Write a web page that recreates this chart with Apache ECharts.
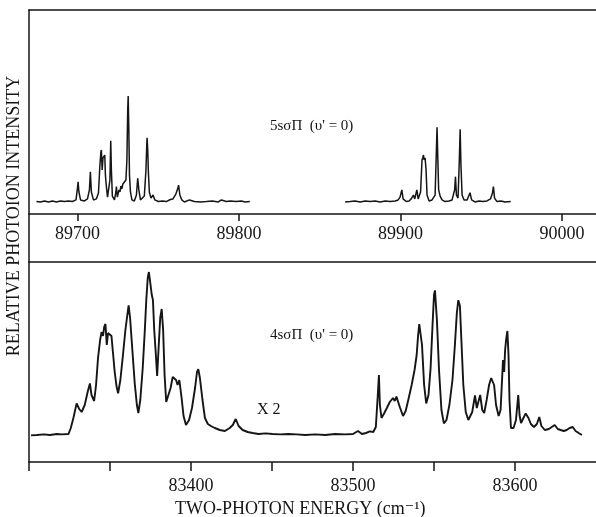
<!DOCTYPE html>
<html>
<head>
<meta charset="utf-8">
<script src="https://cdn.jsdelivr.net/npm/echarts@6/dist/echarts.min.js"></script>
<style>
  html, body { margin: 0; padding: 0; background: #fff; }
  #chart { width: 596px; height: 517px; }
</style>
</head>
<body>
<div id="chart"></div>
<script>
// 5sσΠ (v' = 0) band, lower-energy branch: [energy cm-1, relative intensity]
const band5sLow = [
  [89674.6, 6.1], [89677.1, 5.9], [89679.6, 6.4], [89682.1, 5.9], [89684.5, 6.4], [89687.0, 5.9],
  [89689.5, 6.4], [89692.0, 6.1], [89694.4, 6.4], [89696.9, 6.1], [89699.1, 6.9], [89700.0, 12.7],
  [89700.4, 15.8], [89700.9, 10.8], [89701.9, 6.9], [89704.3, 6.4], [89706.2, 7.4], [89707.4, 11.8],
  [89708.0, 20.7], [89708.6, 10.8], [89709.9, 6.9], [89711.7, 7.4], [89713.0, 10.3], [89713.9, 24.0],
  [89714.5, 30.4], [89714.8, 31.4], [89715.3, 21.6], [89715.8, 27.5], [89716.3, 27.9], [89716.9, 28.9],
  [89717.3, 19.1], [89717.8, 14.2], [89718.6, 8.3], [89719.5, 7.4], [89720.1, 16.7], [89720.6, 35.9],
  [89721.0, 21.6], [89721.6, 8.8], [89722.9, 6.9], [89723.8, 10.8], [89724.1, 13.4], [89724.7, 8.3],
  [89725.7, 11.8], [89726.3, 10.8], [89726.9, 13.7], [89727.5, 12.3], [89728.1, 14.7], [89729.1, 15.2],
  [89730.0, 16.7], [89730.6, 26.5], [89731.1, 51.0], [89731.4, 57.8], [89731.8, 41.2], [89732.2, 19.1],
  [89732.8, 10.8], [89733.7, 6.9], [89735.2, 6.4], [89736.5, 9.3], [89737.3, 17.5], [89738.0, 11.8],
  [89739.0, 6.9], [89740.2, 6.4], [89741.4, 8.8], [89742.4, 21.6], [89742.9, 33.8], [89743.1, 37.4],
  [89743.5, 31.4], [89743.9, 20.6], [89744.5, 10.8], [89745.5, 7.8], [89746.8, 9.3], [89747.9, 6.9],
  [89750.1, 6.1], [89752.6, 6.4], [89755.0, 6.1], [89757.5, 7.1], [89759.1, 7.4], [89760.9, 9.8],
  [89762.2, 12.7], [89762.6, 14.2], [89763.4, 9.3], [89764.6, 6.9], [89766.2, 5.9], [89769.3, 6.9],
  [89772.4, 6.1], [89776.1, 5.9], [89779.8, 6.1], [89783.5, 6.4], [89787.2, 5.9], [89789.1, 6.9],
  [89792.1, 6.1], [89794.6, 6.4], [89798.3, 6.1], [89801.4, 6.4], [89803.9, 5.9], [89806.7, 6.1]
];

// 5sσΠ (v' = 0) band, higher-energy branch
const band5sHigh = [
  [89865.7, 5.9], [89868.8, 6.1], [89871.9, 6.4], [89875.0, 5.9], [89878.1, 6.4], [89881.2, 6.1],
  [89884.3, 6.4], [89887.4, 5.9], [89890.5, 6.4], [89893.6, 6.1], [89896.7, 6.4], [89898.5, 6.9],
  [89899.7, 8.3], [89900.8, 11.8], [89901.6, 7.4], [89903.5, 6.1], [89905.3, 6.4], [89906.6, 7.4],
  [89908.0, 9.3], [89908.8, 7.4], [89910.1, 11.8], [89910.9, 7.4], [89912.4, 10.8], [89913.3, 26.5],
  [89913.7, 27.5], [89914.2, 28.9], [89914.6, 26.5], [89915.2, 27.5], [89915.8, 21.6], [89916.4, 9.3],
  [89917.7, 6.4], [89919.5, 6.9], [89921.4, 9.3], [89922.2, 31.4], [89922.6, 42.5], [89923.1, 26.5],
  [89923.6, 11.8], [89924.5, 8.8], [89925.7, 6.9], [89927.6, 6.1], [89930.0, 6.4], [89931.9, 6.9],
  [89933.5, 11.8], [89934.0, 18.3], [89934.6, 9.3], [89935.6, 7.8], [89936.4, 26.5], [89936.9, 41.5],
  [89937.4, 24.0], [89938.1, 9.3], [89939.3, 6.9], [89941.2, 6.9], [89942.4, 7.8], [89943.0, 10.4],
  [89944.0, 6.9], [89946.1, 5.9], [89948.6, 6.4], [89951.1, 6.1], [89953.5, 6.4], [89955.7, 7.4],
  [89956.9, 10.3], [89957.5, 13.4], [89958.2, 7.8], [89959.7, 6.1], [89962.2, 6.4], [89964.7, 5.9],
  [89968.2, 6.1]
];

// 4sσΠ (v' = 0) band (scaled x 2)
const band4s = [
  [83301.2, 13.3], [83304.9, 13.5], [83309.2, 13.8], [83312.9, 13.5], [83317.2, 14.0], [83320.2, 13.8],
  [83324.4, 14.0], [83325.8, 17.0], [83327.4, 22.0], [83329.4, 29.3], [83331.0, 26.5], [83332.5, 25.0],
  [83334.4, 28.5], [83336.2, 35.0], [83337.6, 39.3], [83338.6, 33.5], [83340.2, 30.5], [83341.4, 38.5],
  [83342.6, 52.0], [83343.9, 61.0], [83344.8, 65.0], [83345.7, 63.0], [83346.4, 67.5], [83347.2, 69.0],
  [83348.0, 58.5], [83348.8, 64.5], [83349.9, 65.5], [83350.9, 63.0], [83351.8, 55.0], [83352.9, 45.0],
  [83354.0, 38.0], [83355.0, 34.3], [83356.4, 41.0], [83358.0, 53.5], [83359.5, 66.0], [83360.7, 73.5],
  [83361.5, 78.3], [83362.4, 72.0], [83363.8, 56.0], [83365.3, 39.0], [83366.6, 28.5], [83367.5, 24.5],
  [83368.7, 31.0], [83370.2, 47.0], [83371.5, 66.0], [83372.4, 81.0], [83373.3, 92.0], [83374.0, 95.0],
  [83374.8, 90.0], [83375.8, 83.5], [83376.5, 81.0], [83377.3, 66.0], [83378.2, 55.0], [83379.1, 43.0],
  [83380.1, 58.5], [83381.0, 72.0], [83381.9, 76.5], [83382.8, 66.0], [83383.7, 43.5], [83384.7, 30.0],
  [83385.9, 31.0], [83387.4, 37.0], [83388.7, 42.5], [83389.8, 43.3], [83390.8, 41.0], [83391.7, 38.5],
  [83392.8, 41.0], [83394.2, 32.0], [83395.4, 23.0], [83396.9, 18.5], [83398.8, 21.0], [83400.6, 27.0],
  [83402.5, 37.0], [83403.7, 45.0], [83404.5, 46.4], [83405.5, 42.0], [83407.1, 31.0], [83408.6, 22.0],
  [83410.4, 19.0], [83412.3, 18.0], [83414.7, 17.0], [83417.8, 16.0], [83420.9, 15.5], [83423.9, 17.0],
  [83425.8, 18.5], [83427.6, 21.5], [83429.4, 18.0], [83431.9, 16.0], [83435.0, 15.0], [83438.0, 14.5],
  [83441.7, 14.0], [83446.0, 14.3], [83450.3, 14.0], [83455.2, 13.8], [83460.1, 14.0], [83465.0, 13.8],
  [83470.6, 13.5], [83476.7, 13.8], [83482.8, 13.5], [83489.0, 14.0], [83495.1, 13.8], [83500.0, 14.0],
  [83503.1, 15.5], [83505.5, 14.0], [83508.0, 14.5], [83510.4, 15.3], [83512.5, 15.0], [83514.1, 17.5],
  [83515.3, 33.5], [83516.0, 43.5], [83516.6, 28.5], [83517.6, 22.0], [83519.0, 24.0], [83520.9, 27.0],
  [83522.7, 30.0], [83524.7, 32.0], [83525.8, 30.5], [83526.8, 32.7], [83527.9, 32.0], [83529.1, 27.0],
  [83530.9, 23.0], [83532.5, 25.5], [83534.4, 32.0], [83536.2, 38.5], [83538.0, 46.0], [83539.3, 53.5],
  [83540.2, 63.5], [83540.9, 69.0], [83541.7, 68.0], [83542.6, 58.5], [83543.9, 38.5], [83545.2, 29.3],
  [83546.6, 33.5], [83547.9, 47.0], [83549.1, 68.5], [83550.0, 83.5], [83550.6, 85.8], [83551.2, 85.0],
  [83551.8, 71.0], [83553.1, 46.0], [83554.6, 26.0], [83556.1, 19.3], [83557.7, 21.0], [83559.5, 28.5],
  [83561.4, 41.0], [83562.9, 58.5], [83564.1, 74.5], [83565.0, 80.9], [83566.0, 78.0], [83566.9, 61.0],
  [83568.1, 38.5], [83569.6, 25.0], [83571.2, 21.0], [83572.4, 20.5], [83573.6, 25.0], [83575.3, 33.3],
  [83576.4, 27.0], [83577.3, 28.0], [83578.5, 33.5], [83579.8, 26.0], [83581.0, 24.5], [83582.5, 31.0],
  [83584.0, 38.5], [83585.3, 42.0], [83586.2, 42.5], [83587.1, 38.5], [83588.3, 28.5], [83589.9, 23.0],
  [83591.1, 26.0], [83592.0, 41.0], [83592.6, 51.0], [83593.3, 45.0], [83593.9, 56.0], [83594.5, 61.0],
  [83595.3, 65.5], [83596.0, 53.5], [83596.6, 31.0], [83597.5, 17.0], [83599.1, 17.0], [83600.6, 21.0],
  [83602.0, 33.5], [83602.8, 23.5], [83603.7, 19.5], [83605.2, 22.0], [83606.6, 24.3], [83608.3, 22.0],
  [83609.8, 19.0], [83611.7, 17.5], [83613.5, 19.0], [83615.0, 22.5], [83616.3, 18.0], [83618.4, 16.0],
  [83620.9, 16.5], [83622.7, 17.5], [83624.5, 18.5], [83626.4, 16.5], [83628.2, 16.0], [83630.1, 15.5],
  [83631.9, 16.0], [83633.7, 17.0], [83635.6, 17.5], [83637.4, 15.5], [83639.3, 14.5], [83641.3, 13.5]
];

// Axis tick positions and labels
const upperTicks = [89700, 89800, 89900, 90000];
const upperLabels = [89700, 89800, 89900, 90000];
const lowerTicks = [83300, 83350, 83400, 83450, 83500, 83550, 83600];
const lowerLabels = [83400, 83500, 83600];

const INK = '#151515';
const SERIF = '"Liberation Serif", "DejaVu Serif", serif';
const frame = { show: true, onZero: false, lineStyle: { color: INK, width: 1.5 } };
const hidden = { show: false };

const chart = echarts.init(document.getElementById('chart'), null, { renderer: 'canvas' });

function plainNumber(v) { return String(v); }

chart.setOption({
  animation: false,
  backgroundColor: '#ffffff',
  grid: [
    { left: 29, top: 10, width: 567, height: 204 },   // upper panel (5sσΠ)
    { left: 29, top: 262, width: 567, height: 200 },  // lower panel (4sσΠ)
    { left: 29, top: 214, width: 567, height: 48 }    // label strip between panels
  ],
  xAxis: [
    {
      gridIndex: 0, type: 'value', min: 89670, max: 90021, position: 'bottom',
      axisLine: frame,
      axisTick: { show: true, customValues: upperTicks, length: 7, lineStyle: { color: INK, width: 1.5 } },
      axisLabel: { customValues: upperLabels, formatter: plainNumber, margin: 11,
                   fontSize: 18, fontFamily: SERIF, color: INK },
      splitLine: hidden
    },
    {
      gridIndex: 0, type: 'value', min: 89670, max: 90021, position: 'top',
      axisLine: frame, axisTick: hidden, axisLabel: hidden, splitLine: hidden
    },
    {
      gridIndex: 1, type: 'value', min: 83300, max: 83650, position: 'bottom',
      axisLine: frame,
      axisTick: { show: true, customValues: lowerTicks, length: 9, lineStyle: { color: INK, width: 1.5 } },
      axisLabel: { customValues: lowerLabels, formatter: plainNumber, margin: 15,
                   fontSize: 18, fontFamily: SERIF, color: INK },
      splitLine: hidden
    },
    {
      gridIndex: 1, type: 'value', min: 83300, max: 83650, position: 'top',
      axisLine: frame, axisTick: hidden, axisLabel: hidden, splitLine: hidden
    },
    {
      gridIndex: 2, type: 'value', min: 0, max: 1, show: false
    }
  ],
  yAxis: [
    {
      gridIndex: 0, type: 'value', min: 0, max: 100,
      axisLine: frame, axisTick: hidden, axisLabel: hidden, splitLine: hidden
    },
    {
      gridIndex: 1, type: 'value', min: 0, max: 100,
      axisLine: frame, axisTick: hidden, axisLabel: hidden, splitLine: hidden
    },
    {
      gridIndex: 2, type: 'value', min: 0, max: 1,
      axisLine: frame, axisTick: hidden, axisLabel: hidden, splitLine: hidden
    }
  ],
  series: [
    {
      name: '5sσΠ low', type: 'line', xAxisIndex: 0, yAxisIndex: 0, data: band5sLow,
      showSymbol: false, symbol: 'none', silent: true,
      lineStyle: { color: INK, width: 1.5 }
    },
    {
      name: '5sσΠ high', type: 'line', xAxisIndex: 0, yAxisIndex: 0, data: band5sHigh,
      showSymbol: false, symbol: 'none', silent: true,
      lineStyle: { color: INK, width: 1.5 }
    },
    {
      name: '4sσΠ', type: 'line', xAxisIndex: 2, yAxisIndex: 1, data: band4s,
      showSymbol: false, symbol: 'none', silent: true,
      lineStyle: { color: INK, width: 1.9 }
    }
  ],
  graphic: [
    {
      type: 'text', x: 14, y: 216, rotation: Math.PI / 2,
      style: { text: 'RELATIVE PHOTOION INTENSITY', fontSize: 18, fontFamily: SERIF,
               fill: INK, align: 'center', verticalAlign: 'middle' }
    },
    {
      type: 'text', x: 175, y: 509,
      style: { text: 'TWO-PHOTON ENERGY (cm⁻¹)', fontSize: 18, fontFamily: SERIF,
               fill: INK, align: 'left', verticalAlign: 'middle' }
    },
    {
      type: 'text', x: 270, y: 126,
      style: { text: "5sσΠ  (υ' = 0)", fontSize: 15, fontFamily: SERIF,
               fill: INK, align: 'left', verticalAlign: 'middle' }
    },
    {
      type: 'text', x: 270, y: 335,
      style: { text: "4sσΠ  (υ' = 0)", fontSize: 15, fontFamily: SERIF,
               fill: INK, align: 'left', verticalAlign: 'middle' }
    },
    {
      type: 'text', x: 257, y: 410,
      style: { text: 'X 2', fontSize: 16, fontFamily: SERIF,
               fill: INK, align: 'left', verticalAlign: 'middle' }
    }
  ]
});
</script>
</body>
</html>
